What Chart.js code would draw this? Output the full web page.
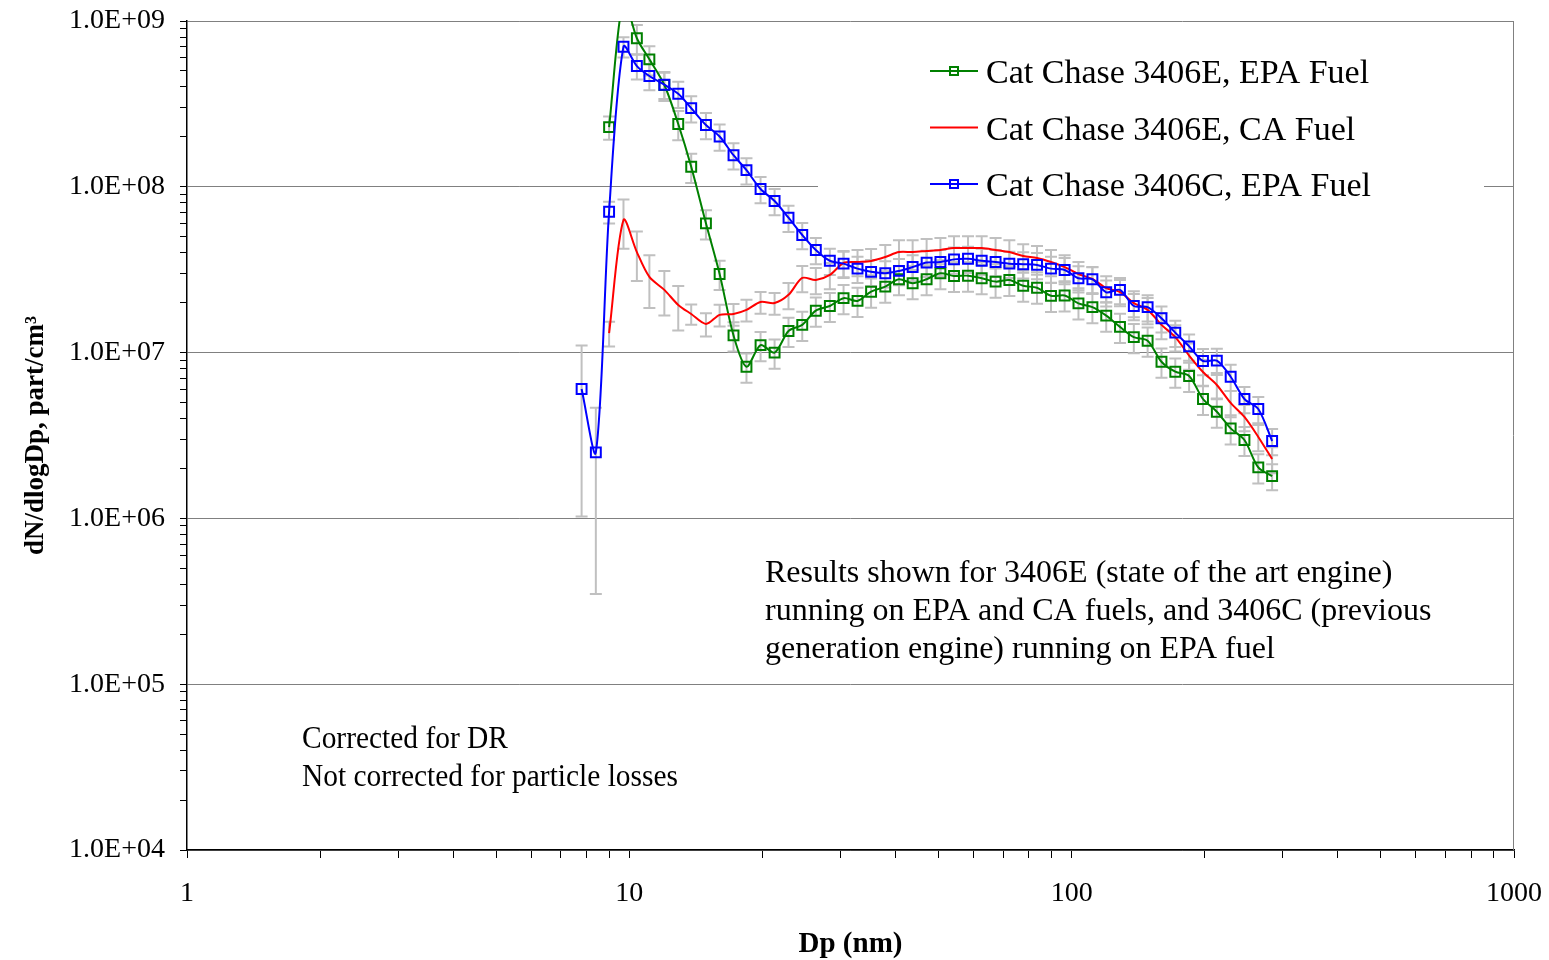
<!DOCTYPE html>
<html lang="en">
<head>
  <meta charset="UTF-8">
  <title>Cat Chase size distributions</title>
  <script src="https://cdn.jsdelivr.net/npm/chart.js"></script>
  <style>
    body { margin: 0; background: #fff; }
    canvas { display: block; }
  </style>
</head>
<body>
  <canvas id="chart" width="1549" height="960"></canvas>
  <script>
    // particle diameter channels (nm)
    const diameters = [7.8, 8.4, 9.0, 9.7, 10.4, 11.1, 12.0, 12.9, 13.8, 14.9,
      16.0, 17.2, 18.4, 19.8, 21.3, 22.9, 24.6, 26.4, 28.4, 30.5,
      32.8, 35.2, 37.9, 40.7, 43.7, 47.0, 50.5, 54.2, 58.3, 62.6,
      67.3, 72.3, 77.7, 83.5, 89.8, 96.4, 103.6, 111.4, 119.7, 128.6,
      138.2, 148.5, 159.6, 171.5, 184.3, 198.1, 212.9, 228.8, 245.8, 264.2,
      283.9];

    // dN/dlogDp, part/cm3
    const e3406Epa = [null, null, 2.29e8, 1.35e9, 7.87e8, 5.87e8, 4.11e8, 2.39e8, 1.32e8, 6.02e7,
      2.98e7, 1.27e7, 8.22e6, 1.11e7, 9.99e6, 1.35e7, 1.47e7, 1.79e7, 1.91e7, 2.13e7,
      2.05e7, 2.33e7, 2.50e7, 2.77e7, 2.62e7, 2.77e7, 3.01e7, 2.90e7, 2.91e7, 2.81e7,
      2.68e7, 2.74e7, 2.53e7, 2.46e7, 2.20e7, 2.21e7, 1.98e7, 1.88e7, 1.67e7, 1.43e7,
      1.24e7, 1.18e7, 8.81e6, 7.67e6, 7.23e6, 5.25e6, 4.40e6, 3.49e6, 2.97e6, 2.03e6,
      1.80e6];
    const e3406Ca = [null, null, 1.31e7, 6.31e7, 4.04e7, 2.86e7, 2.39e7, 1.94e7, 1.71e7, 1.49e7,
      1.69e7, 1.71e7, 1.81e7, 2.02e7, 1.99e7, 2.23e7, 2.82e7, 2.74e7, 2.94e7, 3.47e7,
      3.52e7, 3.57e7, 3.77e7, 4.04e7, 4.04e7, 4.10e7, 4.16e7, 4.27e7, 4.27e7, 4.27e7,
      4.16e7, 4.04e7, 3.82e7, 3.72e7, 3.52e7, 3.28e7, 2.98e7, 2.78e7, 2.45e7, 2.32e7,
      1.99e7, 1.81e7, 1.47e7, 1.24e7, 9.6e6, 7.64e6, 6.38e6, 4.97e6, 4.09e6, 3.10e6,
      2.28e6];
    const c3406Epa = [6.03e6, 2.50e6, 7.07e7, 7.00e8, 5.35e8, 4.66e8, 4.13e8, 3.64e8, 2.98e8, 2.36e8,
      2.01e8, 1.55e8, 1.26e8, 9.70e7, 8.21e7, 6.51e7, 5.12e7, 4.16e7, 3.58e7, 3.44e7,
      3.21e7, 3.07e7, 3.01e7, 3.11e7, 3.28e7, 3.49e7, 3.52e7, 3.65e7, 3.68e7, 3.58e7,
      3.52e7, 3.44e7, 3.41e7, 3.38e7, 3.21e7, 3.15e7, 2.81e7, 2.77e7, 2.31e7, 2.39e7,
      1.91e7, 1.88e7, 1.61e7, 1.32e7, 1.09e7, 8.90e6, 8.94e6, 7.15e6, 5.25e6, 4.57e6,
      2.93e6];

    // error bars as fraction of the value (+/- 1 sd)
    const e3406EpaErr = [null, null, 0.16, 0.2, 0.2, 0.2, 0.2, 0.2, 0.2, 0.2,
      0.2, 0.2, 0.2, 0.2, 0.2, 0.2, 0.2, 0.2, 0.2, 0.2,
      0.2, 0.2, 0.2, 0.2, 0.2, 0.2, 0.2, 0.2, 0.2, 0.2,
      0.2, 0.2, 0.2, 0.2, 0.2, 0.2, 0.2, 0.2, 0.2, 0.2,
      0.2, 0.2, 0.2, 0.2, 0.2, 0.2, 0.2, 0.2, 0.2, 0.2,
      0.18];
    const e3406CaErr = [null, null, 0.17, 0.33, 0.33, 0.35, 0.3, 0.3, 0.14, 0.16,
      0.15, 0.15, 0.15, 0.15, 0.15, 0.18, 0.18, 0.18, 0.18, 0.18,
      0.18, 0.18, 0.18, 0.18, 0.18, 0.18, 0.18, 0.18, 0.18, 0.18,
      0.18, 0.18, 0.18, 0.18, 0.18, 0.18, 0.18, 0.18, 0.18, 0.18,
      0.18, 0.18, 0.18, 0.18, 0.18, 0.18, 0.18, 0.18, 0.18, 0.18,
      0.18];
    const c3406EpaErr = [0.83, 0.86, 0.15, 0.14, 0.17, 0.18, 0.18, 0.18, 0.18, 0.18,
      0.18, 0.18, 0.18, 0.18, 0.18, 0.18, 0.18, 0.18, 0.18, 0.18,
      0.18, 0.18, 0.18, 0.18, 0.18, 0.18, 0.18, 0.18, 0.18, 0.18,
      0.18, 0.18, 0.18, 0.18, 0.18, 0.18, 0.18, 0.18, 0.18, 0.18,
      0.18, 0.18, 0.18, 0.18, 0.18, 0.18, 0.18, 0.18, 0.18, 0.18,
      0.18];

    const seriesNames = ['Cat Chase 3406E, EPA Fuel', 'Cat Chase 3406E, CA Fuel', 'Cat Chase 3406C, EPA Fuel'];
    const xDecades = [1, 10, 100, 1000];
    const xTickLabels = ['1', '10', '100', '1000'];
    const yDecades = [1e4, 1e5, 1e6, 1e7, 1e8, 1e9];
    const yTickLabels = ['1.0E+04', '1.0E+05', '1.0E+06', '1.0E+07', '1.0E+08', '1.0E+09'];
    const noteLines = ['Results shown for 3406E (state of the art engine)',
      'running on EPA and CA fuels, and 3406C (previous',
      'generation engine) running on EPA fuel'];
    const cornerLines = ['Corrected for DR', 'Not corrected for particle losses'];

    const serif = "'Liberation Serif', 'Times New Roman', serif";
    Chart.defaults.font.family = serif;
    Chart.defaults.color = '#000';

    function pairs(values) {
      return diameters.map((d, i) => ({ x: d, y: values[i] }));
    }

    // 1..9 in every decade, no 1.5 steps
    function logTicks(decades) {
      const out = [];
      for (let i = 0; i < decades.length - 1; i++) {
        for (let m = 1; m < 10; m++) out.push({ value: m * decades[i] });
      }
      out.push({ value: decades[decades.length - 1] });
      return out;
    }

    const errSets = [e3406EpaErr, e3406CaErr, c3406EpaErr];

    const backdrop = {
      id: 'backdrop',
      beforeDatasetsDraw(chart) {
        const { ctx, chartArea: a, scales: { x, y } } = chart;
        ctx.save();
        // right plot border
        ctx.strokeStyle = '#808080';
        ctx.lineWidth = 1;
        ctx.beginPath();
        ctx.moveTo(a.right - 0.5, a.top);
        ctx.lineTo(a.right - 0.5, a.bottom);
        ctx.stroke();
        // legend box hides the grid line
        ctx.fillStyle = '#fff';
        ctx.fillRect(818, 40, 666, 165);
        // error bars
        ctx.beginPath();
        ctx.rect(a.left, a.top, a.right - a.left, a.bottom - a.top);
        ctx.clip();
        ctx.strokeStyle = '#c0c0c0';
        ctx.lineWidth = 2;
        chart.data.datasets.forEach((ds, si) => {
          ds.data.forEach((p, i) => {
            const r = errSets[si][i];
            if (p.y == null || r == null) return;
            const px = x.getPixelForValue(p.x);
            const hi = y.getPixelForValue(p.y * (1 + r));
            const lo = y.getPixelForValue(Math.max(p.y * (1 - r), 1));
            ctx.beginPath();
            ctx.moveTo(px, hi); ctx.lineTo(px, lo);
            ctx.moveTo(px - 6, hi); ctx.lineTo(px + 6, hi);
            ctx.moveTo(px - 6, lo); ctx.lineTo(px + 6, lo);
            ctx.stroke();
          });
        });
        ctx.restore();
      },
      afterDraw(chart) {
        const { ctx } = chart;
        ctx.save();
        ctx.fillStyle = '#000';
        ctx.textBaseline = 'alphabetic';
        // legend
        ctx.font = '34px ' + serif;
        chart.data.datasets.forEach((ds, i) => {
          const ly = 71 + i * 56.5;
          ctx.strokeStyle = ds.borderColor;
          ctx.lineWidth = 2;
          ctx.beginPath();
          ctx.moveTo(930, ly); ctx.lineTo(978, ly);
          ctx.stroke();
          if (ds.pointRadius > 0) ctx.strokeRect(950, ly - 4, 8, 8);
          ctx.fillText(seriesNames[i], 986, ly + 12);
        });
        // notes
        ctx.font = '32px ' + serif;
        noteLines.forEach((t, i) => ctx.fillText(t, 765, 582 + i * 38));
        ctx.translate(302, 0);
        ctx.scale(0.92, 1);
        cornerLines.forEach((t, i) => ctx.fillText(t, 0, 748 + i * 38));
        ctx.restore();
      }
    };

    new Chart(document.getElementById('chart'), {
      type: 'line',
      data: {
        datasets: [
          { label: seriesNames[0], data: pairs(e3406Epa), borderColor: '#008000', order: 3,
            pointStyle: 'rect', pointRadius: 7, pointBorderWidth: 2, pointBackgroundColor: 'rgba(0,0,0,0)' },
          { label: seriesNames[1], data: pairs(e3406Ca), borderColor: '#ff0000', order: 2, pointRadius: 0 },
          { label: seriesNames[2], data: pairs(c3406Epa), borderColor: '#0000ff', order: 1,
            pointStyle: 'rect', pointRadius: 7, pointBorderWidth: 2, pointBackgroundColor: 'rgba(0,0,0,0)' }
        ]
      },
      options: {
        responsive: false,
        animation: false,
        devicePixelRatio: 1,
        elements: { line: { borderWidth: 2, tension: 0.3 }, point: { hoverRadius: 7 } },
        layout: { padding: { top: 21, right: 35, left: 0, bottom: 0 } },
        plugins: { legend: { display: false }, tooltip: { enabled: false } },
        scales: {
          x: {
            type: 'logarithmic',
            min: 1, max: 1000,
            afterBuildTicks: s => { s.ticks = logTicks(xDecades); },
            afterFit: s => { s.height = 110; s.paddingLeft = 0; s.paddingRight = 0; },
            grid: { drawOnChartArea: false, color: '#000', tickLength: 8 },
            border: { color: '#000', width: 1.5 },
            ticks: {
              autoSkip: false, maxRotation: 0, padding: 19,
              font: { size: 28 },
              callback: v => { const k = xDecades.indexOf(v); return k >= 0 ? xTickLabels[k] : ''; }
            },
            title: { display: true, text: 'Dp (nm)', font: { size: 29, weight: 'bold', lineHeight: 1.05 }, padding: { top: 0, bottom: 0 } }
          },
          y: {
            type: 'logarithmic',
            min: 1e4, max: 1e9,
            afterBuildTicks: s => { s.ticks = logTicks(yDecades); },
            afterFit: s => { s.width = 187; s.paddingTop = 0; s.paddingBottom = 0; },
            grid: {
              color: c => (c.tick && yDecades.includes(c.tick.value) ? '#808080' : 'rgba(0,0,0,0)'),
              tickColor: '#000', tickLength: 7, lineWidth: 1
            },
            border: { color: '#000', width: 1.5 },
            ticks: {
              autoSkip: false, padding: 15,
              font: { size: 28 },
              callback: v => { const k = yDecades.indexOf(v); return k >= 0 ? yTickLabels[k] : ''; }
            },
            title: { display: true, text: 'dN/dlogDp, part/cm³', font: { size: 27, weight: 'bold' }, padding: { top: 20, bottom: 0 } }
          }
        }
      },
      plugins: [backdrop]
    });
  </script>
</body>
</html>
